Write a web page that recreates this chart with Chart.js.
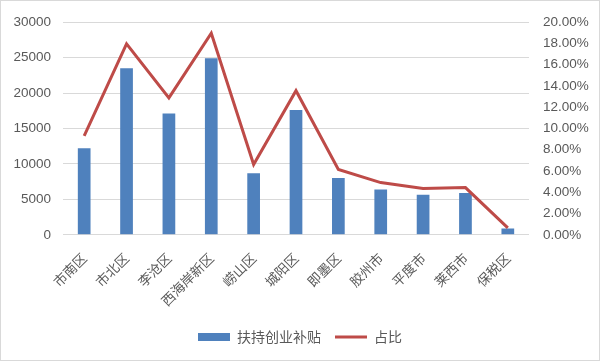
<!DOCTYPE html>
<html><head><meta charset="utf-8">
<script src="https://cdn.jsdelivr.net/npm/chart.js@4/dist/chart.umd.min.js"></script>
<style>html,body{margin:0;padding:0;background:#fff}#wrap{width:600px;height:361px;position:relative}</style>
</head><body><div id="wrap"><canvas id="c" width="600" height="361"></canvas></div>
<script>
const categories = ['市南区','市北区','李沧区','西海岸新区','崂山区','城阳区','即墨区','胶州市','平度市','莱西市','保税区'];
const subsidyValues = [12200, 23500, 17100, 24900, 8700, 17600, 8000, 6400, 5650, 5890, 890];
const sharePercent = [9.30, 17.96, 12.87, 18.95, 6.61, 13.55, 6.15, 4.91, 4.35, 4.44, 0.65];
const seriesNames = ['扶持创业补贴', '占比'];

const gray = '#595959';
const borderPlugin = {
  id: 'frame',
  afterDraw(chart) {
    const ctx = chart.ctx;
    ctx.save();
    ctx.strokeStyle = '#d9d9d9';
    ctx.lineWidth = 1;
    ctx.strokeRect(0.5, 0.5, chart.width - 1, chart.height - 1);
    ctx.restore();
  }
};

new Chart(document.getElementById('c'), {
  type: 'bar',
  data: {
    labels: categories,
    datasets: [
      { type: 'bar', label: seriesNames[0], data: subsidyValues, backgroundColor: '#4F81BD', yAxisID: 'y', order: 1,
        categoryPercentage: 1, barPercentage: 0.3 },
      { type: 'line', label: seriesNames[1], data: sharePercent, borderColor: '#BE4B48', backgroundColor: '#BE4B48',
        borderWidth: 3, pointRadius: 0, tension: 0, yAxisID: 'y1', order: 0 }
    ]
  },
  options: {
    responsive: false,
    animation: false,
    layout: { padding: { top: 6, left: 0, right: 0, bottom: 7 } },
    plugins: {
      tooltip: { enabled: false },
      legend: {
        position: 'bottom',
        labels: {
          font: { family: 'Noto Sans CJK SC', size: 14 },
          color: gray,
          usePointStyle: true,
          pointStyleWidth: 32,
          boxHeight: 8,
          padding: 14,
          sort: (a, b) => a.datasetIndex - b.datasetIndex,
          generateLabels(chart) {
            const items = Chart.defaults.plugins.legend.labels.generateLabels(chart);
            items.forEach(it => {
              if (it.datasetIndex === 0) { it.pointStyle = 'rect'; it.lineWidth = 0; it.strokeStyle = '#4F81BD'; }
              else { it.pointStyle = 'line'; it.lineWidth = 3; }
            });
            return items;
          }
        }
      }
    },
    scales: {
      x: {
        grid: { display: false },
        border: { display: false },
        ticks: { color: gray, font: { family: 'Noto Sans CJK SC', size: 13.5 }, minRotation: 45, maxRotation: 45, padding: 7, autoSkip: false }
      },
      y: {
        position: 'left',
        min: 0, max: 30000,
        ticks: { stepSize: 5000, color: gray, font: { family: 'Liberation Sans', size: 13.5 }, padding: 12,
          callback: v => String(v) },
        grid: { color: '#d9d9d9', drawTicks: false },
        border: { display: false },
        afterFit(s) { s.width = 63; }
      },
      y1: {
        position: 'right',
        min: 0, max: 20,
        ticks: { stepSize: 2, color: gray, font: { family: 'Liberation Sans', size: 13.5 }, padding: 14,
          callback: v => v.toFixed(2) + '%' },
        grid: { display: false, drawTicks: false },
        border: { display: false },
        afterFit(s) { s.width = 71; }
      }
    }
  },
  plugins: [borderPlugin]
});
</script></body></html>
